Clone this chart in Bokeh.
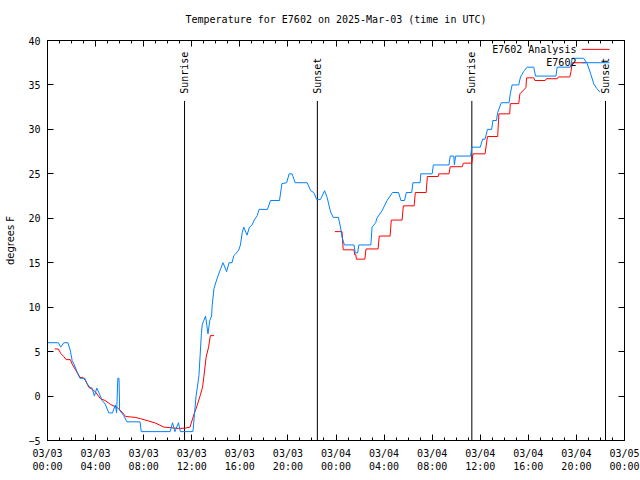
import math
from bokeh.plotting import figure
from bokeh.models import LinearAxis, FixedTicker, Range1d, Title, CustomJSTickFormatter
from bokeh.core.properties import value
from bokeh.embed import file_html
from bokeh.resources import INLINE

TITLE = "Temperature for E7602 on 2025-Mar-03 (time in UTC)"
Y_LABEL = "degrees F"

# x in hours since 03/03 00:00 UTC
x_tick_hours = [0, 4, 8, 12, 16, 20, 24, 28, 32, 36, 40, 44, 48]
x_tick_labels = ["03/03\n00:00", "03/03\n04:00", "03/03\n08:00", "03/03\n12:00",
                 "03/03\n16:00", "03/03\n20:00", "03/04\n00:00", "03/04\n04:00",
                 "03/04\n08:00", "03/04\n12:00", "03/04\n16:00", "03/04\n20:00",
                 "03/05\n00:00"]
y_ticks = [-5, 0, 5, 10, 15, 20, 25, 30, 35, 40]

# Observations (E7602)
obs_hours = [0.0, 0.9, 1.1, 1.35, 1.7, 1.9, 2.05, 2.2, 2.47, 2.7, 3.1, 3.3, 3.5, 3.7,
             3.9, 4.1, 4.27, 4.55, 4.8, 5.1, 5.4, 5.65, 5.75, 5.85, 5.95, 6.0, 6.35,
             6.6, 7.7, 7.8, 10.2, 10.4, 10.6, 10.9, 11.05, 12.1, 12.35, 12.6, 12.8,
             12.87, 13.0, 13.15, 13.35, 13.5, 13.65, 13.7, 13.85, 14.1, 14.4, 14.6,
             14.9, 15.1, 15.35, 15.5, 15.65, 15.9, 16.05, 16.2, 16.33, 16.6, 16.8,
             17.0, 17.2, 17.45, 17.6, 18.3, 18.55, 19.3, 19.5, 19.9, 20.1, 20.35,
             20.6, 21.6, 21.9, 22.15, 22.4, 22.7, 23.05, 23.27, 23.55, 23.77, 24.2,
             24.4, 24.5, 24.7, 25.5, 25.6, 25.8, 25.9, 26.9, 27.0, 27.3, 27.4, 27.85,
             28.25, 28.7, 29.2, 29.4, 29.7, 29.85, 30.3, 30.4, 31.0, 31.05, 32.0,
             32.1, 33.4, 33.5, 33.8, 33.85, 33.95, 35.2, 35.3, 36.0, 36.2, 36.4, 36.6,
             36.95, 37.05, 37.35, 37.45, 37.75, 38.4, 38.5, 38.65, 39.2, 39.35, 39.6,
             39.9, 40.45, 40.6, 42.3, 42.4, 43.5, 43.65, 44.6, 44.9, 45.2, 45.45,
             45.7, 45.95]
obs_temps = [6.0, 6.0, 5.5, 6.0, 6.0, 5.1, 4.0, 3.6, 2.7, 2.0, 2.0, 1.4, 1.0, 0.9,
             0.0, 0.9, 0.4, -0.5, -0.9, -1.9, -1.9, -1.0, -1.9, 2.0, 2.0, -1.6, -2.2,
             -2.9, -2.9, -4.0, -4.0, -3.0, -4.0, -3.0, -4.0, -4.0, -0.1, 2.3, 7.0,
             8.0, 8.5, 9.0, 7.0, 8.5, 9.0, 10.2, 12.1, 13.2, 14.3, 15.0,
             14.0, 15.0, 15.0, 15.8, 16.0, 16.4, 17.0, 18.4, 19.0, 18.1, 19.0,
             19.2, 19.8, 20.3, 21.0, 21.0, 22.0, 22.0, 23.9, 24.0, 25.0, 25.0,
             24.0, 24.0, 23.1, 22.9, 22.1, 22.1, 23.1, 22.3, 20.7, 20.1, 20.1,
             18.8, 17.9, 17.0, 17.0, 16.1, 16.1, 17.0, 17.0, 19.0, 19.5, 20.0, 20.9,
             22.0, 22.9, 22.9, 22.0, 22.0, 22.9, 22.9, 24.0, 24.0, 25.0, 25.0,
             26.0, 26.0, 27.0, 27.0, 26.0, 27.0, 27.0, 28.0, 28.0, 28.9, 28.9, 30.0,
             30.0, 31.0, 31.0, 31.9, 33.0, 33.0, 34.0, 35.0, 35.0, 35.9, 36.5,
             37.0, 37.0, 36.0, 36.0, 37.0, 37.0, 38.0, 38.0, 37.4, 36.2, 35.1,
             34.6, 34.2]

# Analysis (E7602 Analysis), two segments
ana1_hours = [0.6, 0.9, 1.1, 1.35, 1.55, 1.9, 2.05, 2.33, 2.7, 2.95, 3.15, 3.45, 3.7,
              4.0, 4.4, 4.8, 5.25, 5.8, 6.2, 6.5, 7.3, 7.75, 8.4, 9.0, 9.7, 10.2,
              10.9, 11.5, 11.85, 12.2, 12.45, 12.7, 12.9, 13.0, 13.2, 13.4, 13.55, 13.85]
ana1_temps = [5.3, 5.3, 4.8, 4.45, 4.1, 4.1, 3.6, 2.95, 2.1, 2.1, 1.75, 0.95, 0.8,
              0.45, -0.3, -0.5, -0.95, -1.3, -1.8, -2.3, -2.4, -2.55, -2.8, -3.05, -3.5, -3.55,
              -3.65, -3.6, -3.5, -2.0, -1.05, 0.05, 1.0, 2.1, 4.4, 5.5, 6.8, 6.8]
ana2_hours = [23.9, 24.5, 24.6, 25.5, 25.55, 25.65, 25.7, 26.4, 26.5, 27.5, 27.6, 28.5,
              28.6, 29.5, 29.6, 30.5, 30.6, 31.5, 31.6, 32.5, 32.55, 33.4, 33.5, 34.5,
              34.6, 35.3, 35.4, 36.4, 36.6, 37.45, 37.55, 38.45, 38.5, 39.2, 39.3, 39.8,
              39.85, 40.45, 40.55, 41.4, 41.5, 42.4, 42.5, 43.45, 43.55, 43.65, 44.8]
ana2_temps = [18.5, 18.5, 16.45, 16.45, 15.9, 15.9, 15.4, 15.4, 16.55, 16.55, 18.0, 18.0,
              19.8, 19.8, 21.4, 21.4, 22.9, 22.9, 24.7, 24.7, 25.0, 25.0, 25.8, 25.8,
              26.2, 26.2, 27.25, 27.25, 29.2, 29.2, 31.75, 31.75, 32.9, 32.9, 34.0, 34.7,
              35.8, 35.8, 35.5, 35.5, 35.7, 35.7, 35.9, 35.9, 36.5, 37.5, 37.5]

sun_labels = ["Sunrise", "Sunset", "Sunrise", "Sunset"]
sun_hours = [11.4, 22.45, 35.3, 46.42]

legend_labels = ["E7602 Analysis", "E7602"]

RED = "#ff0000"
BLUE = "#0080ff"
MONO = "DejaVu Sans Mono"

p = figure(width=640, height=480, output_backend="svg", toolbar_location=None,
           x_range=Range1d(0, 48), y_range=Range1d(-5, 40), title=None,
           min_border_left=47, min_border_right=16, min_border_top=40, min_border_bottom=40)
p.xgrid.visible = False
p.ygrid.visible = False
p.outline_line_color = "black"
p.outline_line_width = 1
p.background_fill_color = "white"
p.border_fill_color = "white"

minor_x = list(range(0, 49))

def style_axis(ax):
    ax.major_tick_in = 6
    ax.major_tick_out = 0
    ax.minor_tick_in = 3
    ax.minor_tick_out = 0
    ax.axis_line_color = "black"
    ax.major_tick_line_color = "black"
    ax.minor_tick_line_color = "black"
    ax.major_label_text_font = MONO
    ax.major_label_text_font_size = "10px"
    ax.major_label_text_color = "black"

xa = p.xaxis[0]
xa.ticker = FixedTicker(ticks=x_tick_hours, minor_ticks=minor_x)
xa.major_label_overrides = {h: lab for h, lab in zip(x_tick_hours, x_tick_labels)}
style_axis(xa)
xa.major_label_standoff = 7

ya = p.yaxis[0]
ya.ticker = FixedTicker(ticks=y_ticks, minor_ticks=[])
style_axis(ya)
ya.major_label_standoff = 7
ya.axis_label = Y_LABEL
ya.axis_label_text_font = "DejaVu Sans"
ya.axis_label_text_font_size = "10px"
ya.axis_label_text_font_style = "normal"
ya.axis_label_text_color = "black"
ya.axis_label_standoff = 9

blank = CustomJSTickFormatter(code="return ''")
top = LinearAxis(ticker=FixedTicker(ticks=x_tick_hours, minor_ticks=minor_x), formatter=blank)
style_axis(top)
top.major_label_standoff = 0
p.add_layout(top, "above")
right = LinearAxis(ticker=FixedTicker(ticks=y_ticks, minor_ticks=[]), formatter=blank)
style_axis(right)
right.major_label_standoff = 0
p.add_layout(right, "right")

title = Title(text=TITLE, align="center", vertical_align="top", text_font=MONO,
              text_font_size="10px", text_font_style="normal", text_color="black",
              standoff=27)
p.add_layout(title, "above")

# sunrise / sunset markers
p.segment(x0=sun_hours, y0=[-5] * len(sun_hours), x1=sun_hours, y1=[33.2] * len(sun_hours),
          line_color="black", line_width=1)
p.text(x=sun_hours, y=[34.0] * len(sun_hours), text=sun_labels, angle=math.pi / 2,
       text_align="left", text_baseline="middle", text_font=value(MONO),
       text_font_size="10px", text_color="black")

# data
p.line(ana1_hours, ana1_temps, line_color=RED, line_width=1)
p.line(ana2_hours, ana2_temps, line_color=RED, line_width=1)
p.line(obs_hours, obs_temps, line_color=BLUE, line_width=1)

# gnuplot-style key (text right-aligned, sample line to the right)
key_y = [39.0, 37.5]
key_colors = [RED, BLUE]
p.text(x=[44.0, 44.0], y=key_y, text=legend_labels, text_align="right",
       text_baseline="middle", text_font=value(MONO), text_font_size="10px",
       text_color="black")
p.segment(x0=[44.45, 44.45], y0=key_y, x1=[46.75, 46.75], y1=key_y,
          line_color=key_colors, line_width=1)

open("out.html", "w").write(file_html(p, INLINE))
